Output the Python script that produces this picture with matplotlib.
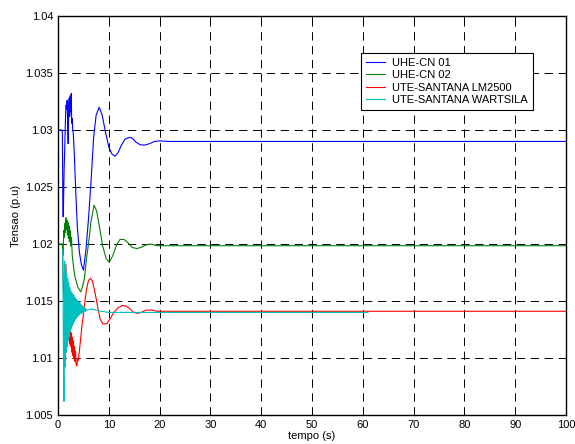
import matplotlib
matplotlib.use("Agg")
import matplotlib.pyplot as plt

plt.rcParams['font.family'] = ['Liberation Sans', 'DejaVu Sans']
plt.rcParams['lines.scale_dashes'] = False

# UHE-CN 01
t_blue = [0, 0.85, 0.9, 0.95, 1.0, 1.05, 1.1, 1.2, 1.3, 1.4, 1.5, 1.6, 1.7, 1.8, 1.9, 2.0,
          2.1, 2.2, 2.3, 2.4, 2.5, 2.6, 2.7, 2.8, 2.9, 3.0, 3.2, 3.5, 3.8, 4.2, 4.6, 5.0,
          5.5, 6.0, 6.5, 7.0, 7.5, 8.1, 8.7, 9.3, 10.0, 10.6, 11.2, 11.8, 12.5, 13.2,
          14.0, 14.6, 15.3, 16.2, 17.1, 18.0, 19.0, 20.0, 22.0, 100]
v_blue = [1.0300, 1.0300, 1.0270, 1.0235, 1.0224, 1.0226, 1.0240, 1.0265, 1.0280, 1.0298,
          1.0315, 1.0322, 1.0318, 1.0326, 1.0305, 1.0288, 1.0320, 1.0328, 1.0312, 1.0330,
          1.0316, 1.0332, 1.0306, 1.0310, 1.0300, 1.0297, 1.0280, 1.0245, 1.0215, 1.0193,
          1.0182, 1.0177, 1.0195, 1.0222, 1.0255, 1.0293, 1.0313, 1.0320, 1.0313, 1.0299,
          1.0285, 1.0279, 1.0277, 1.0280, 1.0287, 1.0292, 1.02935, 1.0293, 1.02895, 1.0287,
          1.02868, 1.0288, 1.0290, 1.02905, 1.0290, 1.0290]

# UHE-CN 02
t_green = [0, 0.85, 0.95, 1.05, 1.15, 1.25, 1.35, 1.45, 1.55, 1.65, 1.75, 1.85, 1.95, 2.05,
           2.15, 2.25, 2.35, 2.5, 2.65, 2.8, 3.0, 3.3, 3.6, 3.9, 4.2, 4.45, 4.8, 5.2, 5.6,
           6.0, 6.5, 7.1, 7.6, 8.2, 8.8, 9.5, 10.1, 10.8, 11.5, 12.2, 13.0, 13.8, 14.6,
           15.5, 16.3, 17.2, 18.2, 19.5, 21, 100]
v_green = [1.0200, 1.0200, 1.0190, 1.0200, 1.0212, 1.0206, 1.0218, 1.0210, 1.0223, 1.0213,
           1.0221, 1.0208, 1.0219, 1.0205, 1.0216, 1.0202, 1.0212, 1.0198, 1.0206, 1.0190,
           1.0182, 1.0172, 1.0167, 1.0162, 1.0160, 1.0158, 1.0162, 1.0170, 1.0187, 1.0200,
           1.0220, 1.0234, 1.0229, 1.0214, 1.0198, 1.0187, 1.0184, 1.0190, 1.0199, 1.0204,
           1.0204, 1.0201, 1.0197, 1.0196, 1.0197, 1.0199, 1.0200, 1.01985, 1.01985, 1.01985]

# UTE-SANTANA LM2500
t_red = [0.9, 1.0, 1.2, 1.4, 1.55, 1.65, 1.75, 1.85, 1.95, 2.05, 2.15, 2.25, 2.35, 2.45,
         2.55, 2.65, 2.75, 2.85, 2.95, 3.05, 3.15, 3.25, 3.35, 3.45, 3.55, 3.7, 3.85, 4.0,
         4.3, 4.7, 5.0, 5.3, 5.6, 6.0, 6.4, 6.8, 7.3, 7.8, 8.3, 8.8, 9.6, 10.2, 11.0, 11.8,
         12.6, 13.4, 14.2, 14.9, 15.6, 16.4, 17.3, 18.4, 19.5, 21, 100]
v_red = [1.0195, 1.0170, 1.0150, 1.0165, 1.0182, 1.0160, 1.0135, 1.0148, 1.0125, 1.0138,
         1.0118, 1.0132, 1.0112, 1.0126, 1.0110, 1.0122, 1.0105, 1.0118, 1.0102, 1.0115,
         1.0099, 1.0110, 1.0097, 1.0106, 1.0095, 1.0093, 1.0100, 1.0098, 1.0110, 1.0128,
         1.0138, 1.0150, 1.0160, 1.0168, 1.0170, 1.0167, 1.0157, 1.0145, 1.0134, 1.0130,
         1.0130, 1.0134, 1.0140, 1.0144, 1.0146, 1.01456, 1.0143, 1.0140, 1.01392, 1.0140,
         1.0142, 1.01421, 1.0141, 1.0141, 1.0141]

# UTE-SANTANA WARTSILA
t_cyan = [0.9, 1.0, 1.1, 1.18, 1.3, 1.4, 1.5, 1.6, 1.7, 1.8, 1.9, 2.0, 2.1, 2.2, 2.3, 2.4,
          2.5, 2.6, 2.7, 2.8, 2.9, 3.0, 3.1, 3.2, 3.3, 3.4, 3.5, 3.6, 3.7, 3.8, 3.9, 4.0,
          4.1, 4.2, 4.3, 4.4, 4.5, 4.6, 4.7, 4.8, 4.9, 5.0, 5.1, 5.2, 5.3, 5.4, 5.5, 5.6,
          5.8, 6.5, 7.5, 8.5, 10, 12, 61]
v_cyan = [1.0195, 1.0150, 1.0090, 1.0062, 1.0185, 1.0092, 1.0180, 1.0105, 1.0174, 1.0110,
          1.0170, 1.0115, 1.0166, 1.0119, 1.0162, 1.0123, 1.0159, 1.0126, 1.0157, 1.0128,
          1.0156, 1.0130, 1.0155, 1.0132, 1.0153, 1.0134, 1.0152, 1.0135, 1.0151, 1.0136,
          1.0150, 1.0137, 1.0149, 1.0138, 1.0148, 1.0139, 1.0147, 1.0139, 1.0146, 1.0140,
          1.0145, 1.0140, 1.0144, 1.0141, 1.0144, 1.0141, 1.0143, 1.0142, 1.0142, 1.0143,
          1.0142, 1.0141, 1.0140, 1.0140, 1.0140]

labels = ['UHE-CN 01', 'UHE-CN 02', 'UTE-SANTANA LM2500', 'UTE-SANTANA WARTSILA']
colors = ['#0000ff', '#008000', '#ff0000', '#00bfbf']

fig = plt.figure(figsize=(5.75, 4.44), dpi=100)
ax = fig.add_axes([0.1009, 0.0653, 0.8835, 0.8986])

for tt, vv, lab, col in zip([t_blue, t_green, t_red, t_cyan],
                            [v_blue, v_green, v_red, v_cyan], labels, colors):
    ax.plot(tt, vv, color=col, linewidth=0.8, label=lab)

ax.set_xlim(0, 100)
ax.set_ylim(1.005, 1.04)
ax.set_xticks(range(0, 101, 10))
ax.set_yticks([1.005, 1.01, 1.015, 1.02, 1.025, 1.03, 1.035, 1.04])
ax.set_yticklabels(['1.005', '1.01', '1.015', '1.02', '1.025', '1.03', '1.035', '1.04'])
ax.tick_params(labelsize=8, direction='in', top=True, right=True, length=4, width=0.6)
ax.grid(True, color='black', linestyle=(0, (6, 4)), linewidth=0.7)
for s in ax.spines.values():
    s.set_linewidth(1.0)

ax.set_xlabel('tempo (s)', fontsize=8, labelpad=1)
ax.set_ylabel('Tensao (p.u)', fontsize=8, labelpad=3)

# legenda com moldura preta, sem cantos arredondados
leg = ax.legend(loc='upper left', bbox_to_anchor=(0.596, 0.907), fontsize=8,
                frameon=True, fancybox=False, framealpha=1, edgecolor='black',
                borderpad=0.45, labelspacing=0.2, handlelength=1.7,
                handletextpad=0.65, borderaxespad=0)
leg.get_frame().set_linewidth(0.8)

fig.savefig('out.png', dpi=100)
